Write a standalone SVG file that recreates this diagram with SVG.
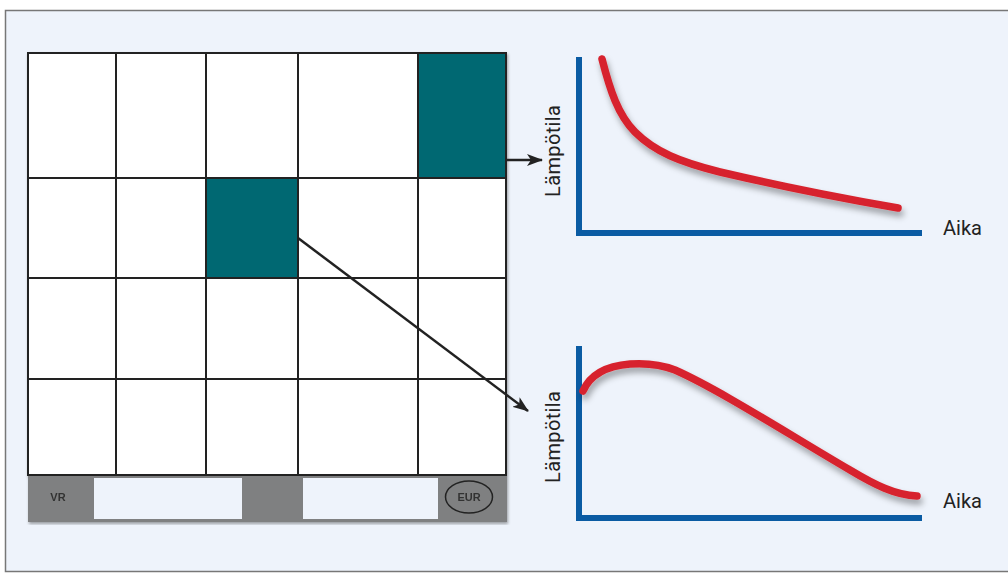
<svg xmlns="http://www.w3.org/2000/svg" width="1008" height="575" viewBox="0 0 1008 575">
<style>
.cell{fill:#ffffff}
.teal{fill:#006772}
.grid{stroke:#222;stroke-width:2;fill:none}
.axis{stroke:#0a5ba3;stroke-width:6;fill:none}
.curve{stroke:#d7242d;stroke-width:7.5;fill:none;stroke-linecap:round;stroke-linejoin:round;filter:url(#sh)}
.lbl{font-family:Roboto,"Liberation Sans",sans-serif;font-size:20px;fill:#222}
.small{font-family:"Liberation Sans",Arial,sans-serif;font-size:11px;font-weight:bold;fill:#333}
.conn{stroke:#222;stroke-width:2.5;fill:none;marker-end:url(#ah)}
</style>
<defs>
<marker id="ah" viewBox="0 0 16 12" refX="15" refY="6" markerWidth="16" markerHeight="12" markerUnits="userSpaceOnUse" orient="auto">
<path d="M0,0 L16,6 L0,12 L4,6 Z" fill="#222"/>
</marker>
<filter id="sh" x="-10%" y="-10%" width="130%" height="140%">
<feDropShadow dx="2" dy="5" stdDeviation="3" flood-color="#000" flood-opacity="0.35"/>
</filter>
<filter id="gs" x="-5%" y="-5%" width="110%" height="110%">
<feDropShadow dx="1" dy="2" stdDeviation="1.5" flood-color="#000" flood-opacity="0.35"/>
</filter>
</defs>
<rect x="0" y="0" width="1008" height="575" fill="#ffffff"/>
<rect x="5.5" y="10.5" width="1010" height="561" fill="#eef3fb" stroke="#777" stroke-width="1.5"/>

<g id="grid" filter="url(#gs)">
<rect x="28" y="53" width="478" height="422" class="cell"/>
<rect x="418" y="53" width="88" height="125" class="teal"/>
<rect x="206" y="178" width="92" height="100" class="teal"/>
<path class="grid" d="M28,53 H506 V475 H28 Z M116,53 V475 M206,53 V475 M298,53 V475 M418,53 V475 M28,178 H506 M28,278 H506 M28,379 H506"/>
</g>

<g id="bar" filter="url(#gs)">
<rect x="28" y="476" width="479" height="46" fill="#7f8081"/>
<rect x="94" y="478" width="148" height="41" fill="#eef3fb"/>
<rect x="303" y="478" width="135" height="41" fill="#eef3fb"/>
<text x="58" y="501" class="small" text-anchor="middle">VR</text>
<ellipse cx="469" cy="497" rx="23.5" ry="16" fill="none" stroke="#222" stroke-width="1.5"/>
<text x="469" y="501" class="small" text-anchor="middle">EUR</text>
</g>

<g id="connectors">
<line x1="506" y1="160" x2="542" y2="160" class="conn"/>
<line x1="298" y1="238" x2="528" y2="411" class="conn"/>
</g>

<g id="chart1">
<path class="axis" d="M579,57 V233 H922"/>
<path class="curve" d="M602,59 C610,90 618,115 635,132 C655,152 680,162 720,172 C780,186 840,198 898,208"/>
<text class="lbl" transform="translate(560,151) rotate(-90)" text-anchor="middle" textLength="92">Lämpötila</text>
<text class="lbl" x="943" y="235">Aika</text>
</g>

<g id="chart2">
<path class="axis" d="M579,346 V518 H922"/>
<path class="curve" d="M583,391 C590,375 605,366 630,364 C645,363 660,364 675,370 C720,390 790,435 850,470 C875,485 895,495 917,496"/>
<text class="lbl" transform="translate(560,437) rotate(-90)" text-anchor="middle" textLength="92">Lämpötila</text>
<text class="lbl" x="943" y="508">Aika</text>
</g>
</svg>
